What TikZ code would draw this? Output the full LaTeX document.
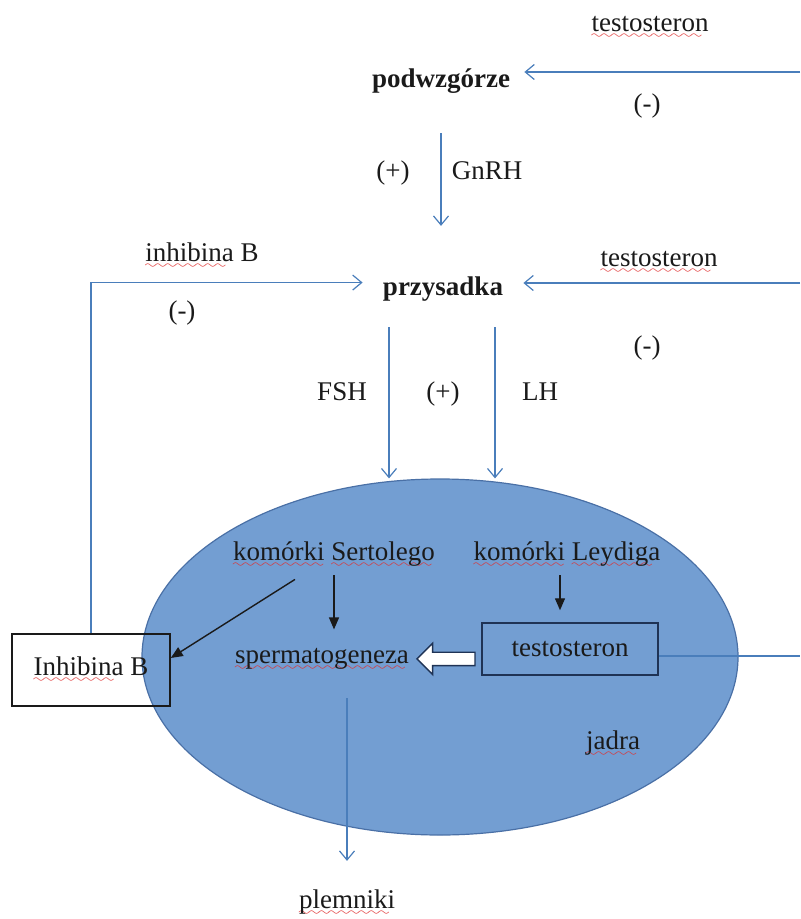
\documentclass[tikz,border=0pt]{standalone}
\usepackage{fontspec}
\setmainfont{Liberation Serif}
\usepackage{tikz}
\usepackage{xcolor}
\usetikzlibrary{arrows.meta,positioning,shapes.geometric,shapes.arrows,calc}
\definecolor{ink}{HTML}{1A1A1A}
\definecolor{lineblue}{HTML}{4A7EBB}
\definecolor{testisfill}{HTML}{739ED2}
\definecolor{testisedge}{HTML}{4A70A6}
\definecolor{boxnavy}{HTML}{1F3355}
\definecolor{squigred}{HTML}{E03030}
\font\squigfont=lasy6 \relax
\newsavebox\spellbox
\newcommand\spell[1]{\sbox\spellbox{#1}\leavevmode\rlap{\color{squigred}\lower3.5pt\hbox to\wd\spellbox{\leaders\hbox{\squigfont\char58}\hfil}}\usebox\spellbox}
\tikzset{
  stage/.style={font=\fontsize{13.5}{16}\selectfont\bfseries,text=ink,inner sep=4pt},
  lbl/.style={font=\fontsize{13.5}{16}\selectfont,text=ink,inner sep=4pt},
  cellbox/.style={line width=0.75pt,font=\fontsize{13.5}{16}\selectfont,text=ink,inner sep=4pt},
  testis/.style={ellipse,draw=testisedge,fill=testisfill,line width=0.6pt,
                 minimum width=298pt,minimum height=178pt,inner sep=0pt},
  bluearr/.style={-{Straight Barb[length=4.5pt,width=7.5pt]},line width=0.6pt,draw=lineblue},
  blueline/.style={line width=0.6pt,draw=lineblue},
  blackarr/.style={-{Triangle[length=6pt,width=5pt]},line width=0.7pt,draw=ink},
  hollowarr/.style={single arrow,draw=boxnavy,fill=white,line width=0.7pt,
                    shape border rotate=180,minimum height=29pt,inner xsep=0pt,inner ysep=3pt,
                    single arrow head extend=4.5pt}
}
\begin{document}
\begin{tikzpicture}[x=0.5pt,y=-0.5pt]
  \useasboundingbox (0,0) rectangle (800,919);
  \node[testis] (jadro) at (440,657) {};

  \node[stage,anchor=base] (podw) at (441,88) {podwzgórze};
  \node[lbl,anchor=base] (testtop) at (650,32) {\spell{testosteron}};
  \node[lbl,anchor=base] (negtop) at (647,113) {(-)};
  \node[lbl,anchor=base] (plusg) at (393,180) {(+)};
  \node[lbl,anchor=base] (gnrh) at (487,180) {GnRH};
  \node[stage,anchor=base] (przy) at (443,296) {przysadka};
  \node[lbl,anchor=base] (inhtop) at (202,262) {\spell{inhibina} B};
  \node[lbl,anchor=base] (testmid) at (659,267) {\spell{testosteron}};
  \node[lbl,anchor=base] (negl) at (182,320) {(-)};
  \node[lbl,anchor=base] (negr) at (647,354) {(-)};
  \node[lbl,anchor=base] (fsh) at (342,400) {FSH};
  \node[lbl,anchor=base] (plusf) at (443,400) {(+)};
  \node[lbl,anchor=base] (lh) at (540,400) {LH};

  \node[lbl,anchor=base] (sert) at (334,560) {\spell{komórki} \spell{Sertolego}};
  \node[lbl,anchor=base] (leyd) at (567,560) {\spell{komórki} \spell{Leydiga}};
  \node[lbl,anchor=base] (sperm) at (322,663) {\spell{spermatogeneza}};
  \node[cellbox,draw=boxnavy,minimum width=88pt,minimum height=26pt] (tbox) at (570,649) {testosteron};
  \node[cellbox,draw=ink,minimum width=79pt,minimum height=36pt] (inhB) at (91,670) {\spell{Inhibina} B};
  \node[lbl,anchor=base] (jad) at (613,749) {\spell{jadra}};
  \node[lbl,anchor=base] (plem) at (347,908) {\spell{plemniki}};

  \coordinate (rt1) at (800,72);
  \coordinate (rt2) at (800,283);
  \coordinate (rt3) at (800,656);
  \coordinate (fshtop) at (389,327);
  \coordinate (lhtop) at (495,327);

  \draw[bluearr,shorten >=3pt] (rt1) -- (rt1 -| podw.east);
  \draw[bluearr,shorten <=15.5pt,shorten >=21.5pt] (podw.south) -- (podw.south |- przy.north);
  \draw[bluearr,shorten >=6pt] (inhB.north) |- ([yshift=3.5pt]przy.west);
  \draw[bluearr,shorten >=6pt] (rt2) -- (rt2 -| przy.east);
  \draw[bluearr] (fshtop) -- (fshtop |- jadro.north);
  \draw[bluearr] (lhtop) -- (lhtop |- jadro.north);
  \draw[blackarr,shorten >=5pt] (sert.south) -- (sert.south |- sperm.north);
  \draw[blackarr,shorten >=6pt] ([xshift=-3.5pt]leyd.south) -- ([xshift=-3.5pt]leyd.south |- tbox.north);
  \draw[blackarr] ([xshift=-19.5pt,yshift=-2pt]sert.south) -- ([yshift=6pt]inhB.east);
  \node[hollowarr] (hol) at ($(sperm.east)!0.5!(tbox.west |- sperm.east)$) {};
  \draw[blueline] (tbox.east |- rt3) -- (rt3);
  \draw[bluearr,shorten <=10pt,shorten >=10pt] (sperm.south -| plem.north) -- (plem.north);
\end{tikzpicture}
\end{document}
